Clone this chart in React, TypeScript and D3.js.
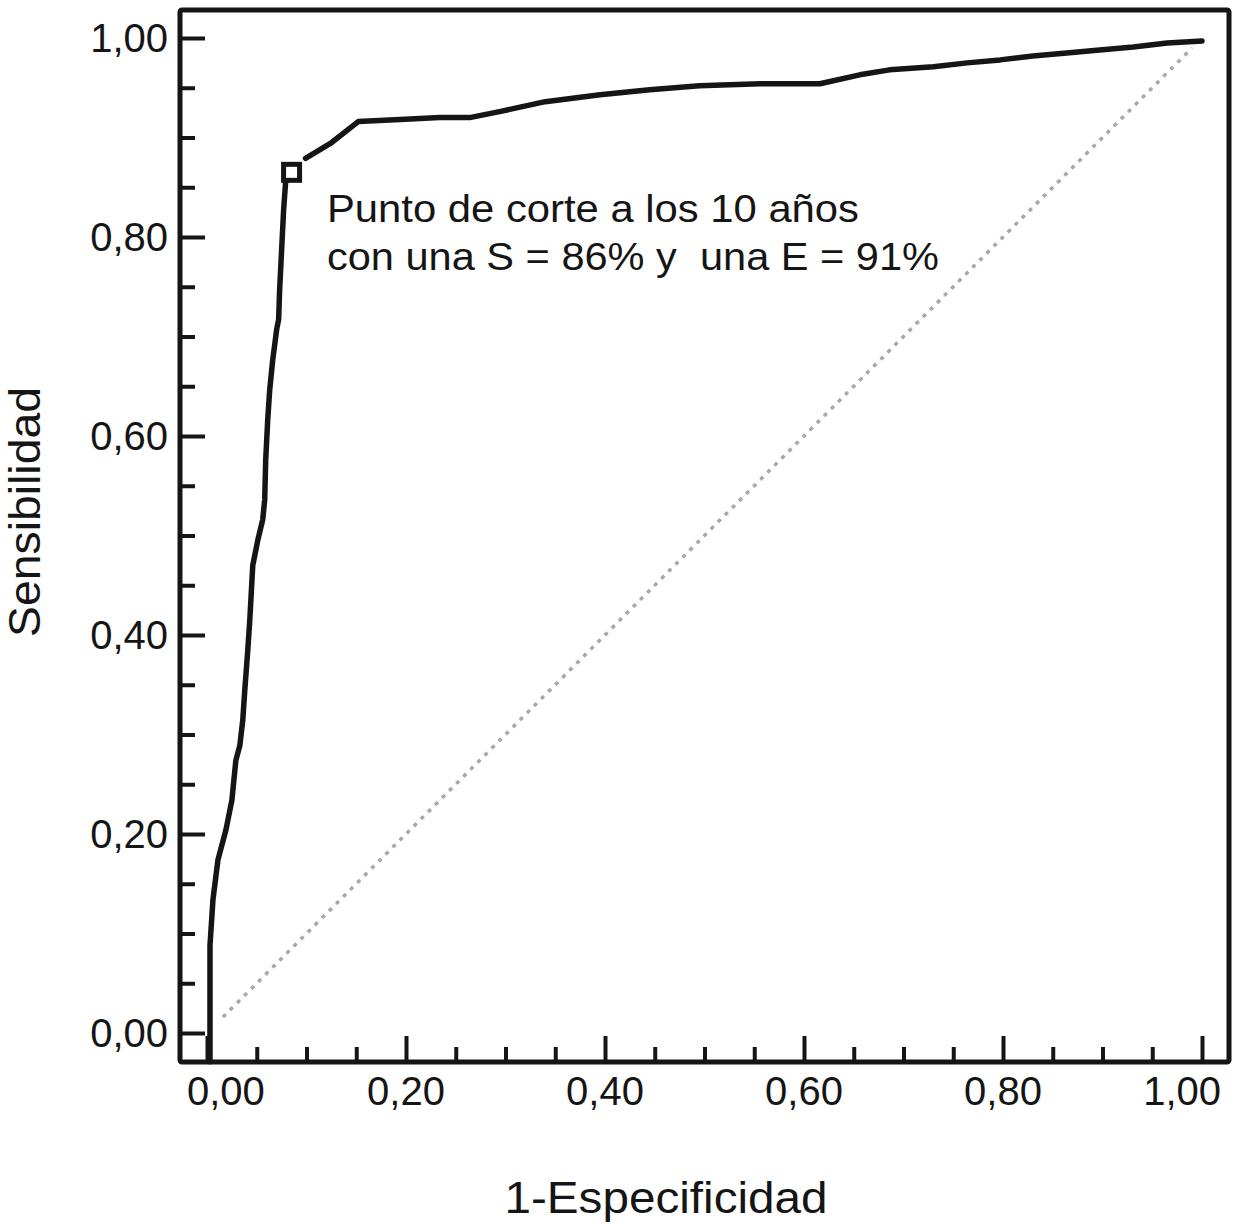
import { useEffect, useRef } from 'react';
import * as d3 from 'd3';

// ROC curve: 1-specificity (x) and sensitivity (y)
const FPR_LOW = [0.003, 0.003, 0.006, 0.011, 0.019, 0.025, 0.029, 0.033, 0.036, 0.038, 0.041, 0.043, 0.046, 0.051, 0.056, 0.058, 0.059, 0.061, 0.063, 0.066, 0.070, 0.072, 0.073, 0.075, 0.077, 0.079, 0.085];
const SENS_LOW = [-0.029, 0.088, 0.134, 0.174, 0.204, 0.234, 0.274, 0.289, 0.315, 0.345, 0.385, 0.415, 0.470, 0.495, 0.516, 0.536, 0.576, 0.616, 0.646, 0.676, 0.707, 0.717, 0.747, 0.787, 0.827, 0.855, 0.865];
const FPR_HIGH = [0.099, 0.124, 0.152, 0.194, 0.234, 0.264, 0.294, 0.340, 0.395, 0.445, 0.495, 0.556, 0.616, 0.656, 0.686, 0.730, 0.764, 0.797, 0.830, 0.864, 0.897, 0.931, 0.965, 1.000];
const SENS_HIGH = [0.879, 0.894, 0.916, 0.918, 0.920, 0.920, 0.926, 0.936, 0.943, 0.948, 0.952, 0.954, 0.954, 0.963, 0.968, 0.971, 0.975, 0.978, 0.982, 0.985, 0.988, 0.991, 0.995, 0.997];
const CUT_POINT = { fpr: 0.085, sens: 0.865 };
const DIAGONAL = [0.016, 0.99];

const MAJOR_TICKS = [0, 0.2, 0.4, 0.6, 0.8, 1];
const MINOR_TICKS = d3.range(0, 1.0001, 0.05).filter(v => Math.abs(v * 5 - Math.round(v * 5)) > 1e-6);
const TICK_LABELS = ['0,00', '0,20', '0,40', '0,60', '0,80', '1,00'];

const ANNOTATION = ['Punto de corte a los 10 años', 'con una S = 86% y  una E = 91%'];
const X_TITLE = '1-Especificidad';
const Y_TITLE = 'Sensibilidad';

const W = 1236, H = 1223;
const FONT = '"Liberation Sans", Arial, Helvetica, sans-serif';
const INK = '#151515';

export default function App() {
  const ref = useRef<SVGSVGElement>(null);

  useEffect(() => {
    const frame = { left: 180, top: 10, right: 1229, bottom: 1062 };
    const x = d3.scaleLinear().domain([0, 1]).range([207, 1202]);
    const y = d3.scaleLinear().domain([0, 1]).range([1033, 38]);

    const svg = d3.select(ref.current);
    svg.selectAll('*').remove();

    // ticks (inward)
    const bottomMajor = d3.axisBottom(x).tickValues(MAJOR_TICKS).tickSize(-26).tickFormat(() => '');
    const bottomMinor = d3.axisBottom(x).tickValues(MINOR_TICKS).tickSize(-15).tickFormat(() => '');
    const leftMajor = d3.axisLeft(y).tickValues(MAJOR_TICKS).tickSize(-25).tickFormat(() => '');
    const leftMinor = d3.axisLeft(y).tickValues(MINOR_TICKS).tickSize(-15).tickFormat(() => '');

    [bottomMajor, bottomMinor].forEach(ax => {
      svg.append('g').attr('transform', `translate(0,${frame.bottom})`).call(ax).call(tickStyle);
    });
    [leftMajor, leftMinor].forEach(ax => {
      svg.append('g').attr('transform', `translate(${frame.left},0)`).call(ax).call(tickStyle);
    });

    // tick labels
    svg.append('g').selectAll('text').data(MAJOR_TICKS).join('text')
      .attr('x', (d, i) => i === 0 ? x(d) - 20 : i === MAJOR_TICKS.length - 1 ? x(d) + 19 : x(d))
      .attr('y', 1105)
      .attr('text-anchor', (d, i) => i === 0 ? 'start' : i === MAJOR_TICKS.length - 1 ? 'end' : 'middle')
      .attr('font-family', FONT).attr('font-size', 40).attr('fill', INK)
      .text((d, i) => TICK_LABELS[i]);
    svg.append('g').selectAll('text').data(MAJOR_TICKS).join('text')
      .attr('x', 168).attr('y', d => y(d) + 14)
      .attr('text-anchor', 'end')
      .attr('font-family', FONT).attr('font-size', 40).attr('fill', INK)
      .text((d, i) => TICK_LABELS[i]);

    // chance diagonal
    svg.append('line')
      .attr('x1', x(DIAGONAL[0])).attr('y1', y(DIAGONAL[0]))
      .attr('x2', x(DIAGONAL[1])).attr('y2', y(DIAGONAL[1]))
      .attr('stroke', '#a8a8a8').attr('stroke-width', 3.5)
      .attr('stroke-dasharray', '4,6');

    // ROC curve
    const line = d3.line<[number, number]>().x(d => x(d[0])).y(d => y(d[1]));
    const low = FPR_LOW.map((v, i) => [v, SENS_LOW[i]] as [number, number]);
    const high = FPR_HIGH.map((v, i) => [v, SENS_HIGH[i]] as [number, number]);
    [low, high].forEach(pts => {
      svg.append('path').datum(pts)
        .attr('d', line).attr('fill', 'none')
        .attr('stroke', INK).attr('stroke-width', 5.5)
        .attr('stroke-linejoin', 'round').attr('stroke-linecap', 'round');
    });

    // cut point marker
    const s = 16;
    svg.append('rect')
      .attr('x', x(CUT_POINT.fpr) - s / 2).attr('y', y(CUT_POINT.sens) - s / 2)
      .attr('width', s).attr('height', s)
      .attr('fill', '#fff').attr('stroke', INK).attr('stroke-width', 5);

    // frame
    svg.append('rect')
      .attr('x', frame.left).attr('y', frame.top)
      .attr('width', frame.right - frame.left).attr('height', frame.bottom - frame.top)
      .attr('fill', 'none').attr('stroke', INK).attr('stroke-width', 5).attr('rx', 2);

    // annotation
    const ann = svg.append('text').attr('font-family', FONT).attr('font-size', 38).attr('fill', INK)
      .style('white-space', 'pre');
    ann.append('tspan').attr('x', 327).attr('y', 222).attr('textLength', 532).attr('lengthAdjust', 'spacingAndGlyphs').text(ANNOTATION[0]);
    ann.append('tspan').attr('x', 327).attr('y', 270).attr('textLength', 612).attr('lengthAdjust', 'spacingAndGlyphs').text(ANNOTATION[1]);

    // axis titles
    svg.append('text').attr('x', 666).attr('y', 1213).attr('text-anchor', 'middle')
      .attr('font-family', FONT).attr('font-size', 44).attr('fill', INK)
      .attr('textLength', 323).attr('lengthAdjust', 'spacingAndGlyphs')
      .text(X_TITLE);
    svg.append('text').attr('transform', `translate(40,512) rotate(-90)`).attr('text-anchor', 'middle')
      .attr('font-family', FONT).attr('font-size', 44).attr('fill', INK)
      .attr('textLength', 250).attr('lengthAdjust', 'spacingAndGlyphs')
      .text(Y_TITLE);
  }, []);

  return (
    <div style={{ position: 'absolute', left: 0, top: 0, background: '#fff' }}>
      <svg ref={ref} width={W} height={H} style={{ display: 'block' }} />
    </div>
  );
}

function tickStyle(g: d3.Selection<SVGGElement, unknown, null, undefined>) {
  g.select('.domain').remove();
  g.selectAll('.tick line').attr('stroke', INK).attr('stroke-width', 4);
}
